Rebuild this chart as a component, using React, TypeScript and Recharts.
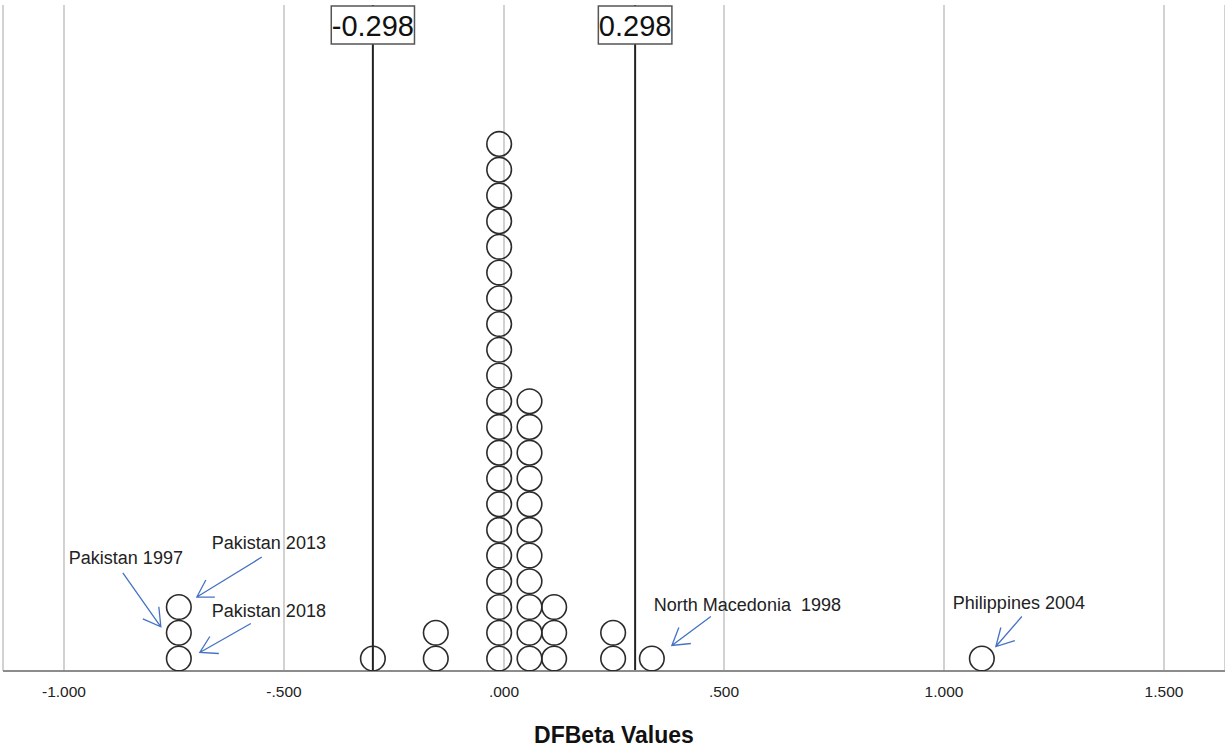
import { CartesianGrid, ReferenceLine, Scatter, ScatterChart, XAxis, YAxis } from "recharts";

// DFBeta values (one per dot column) and how many cases sit in each column
const dfbetaValues = [-0.739, -0.298, -0.155, -0.011, 0.058, 0.114, 0.248, 0.336, 1.086];
const caseCounts = [3, 1, 2, 21, 11, 3, 2, 1, 1];

// labelled cases: name, DFBeta value, position in its stack (0 = bottom)
const caseNames = ["Pakistan 1997", "Pakistan 2013", "Pakistan 2018", "North Macedonia  1998", "Philippines 2004"];
const caseValues = [-0.739, -0.739, -0.739, 0.336, 1.086];
const caseLevels = [1, 2, 0, 0, 0];

// cutoff lines (2 / sqrt(n))
const cutoffs = [-0.298, 0.298];

const xTicks = [-1, -0.5, 0, 0.5, 1, 1.5];

const dots = dfbetaValues.flatMap((v, i) =>
  Array.from({ length: caseCounts[i] }, (_, level) => ({ x: v, level }))
);
const callouts = caseNames.map((name, i) => ({ x: caseValues[i], level: caseLevels[i], name }));

const FONT = "'Liberation Sans', Arial, sans-serif";
const ARROW = "#4472c4";

type Pt = [number, number];
// arrow / text placement relative to the dot centre
const calloutLayout: Record<string, { text: Pt; from: Pt; tip: Pt; wings: [Pt, Pt] }> = {
  "Pakistan 1997": { text: [-110, -69], from: [-56, -60], tip: [-18, -6], wings: [[-20, -26], [-36, -14]] },
  "Pakistan 2013": { text: [33, -58], from: [83, -50], tip: [18, -10], wings: [[27, -27], [36, -10]] },
  "Pakistan 2018": { text: [33, -42], from: [72, -35], tip: [21, -6], wings: [[31, -22], [40, -5]] },
  "North Macedonia  1998": { text: [2, -48], from: [59, -42], tip: [20, -13], wings: [[27, -31], [39, -15]] },
  "Philippines 2004": { text: [-29, -50], from: [40, -42], tip: [14, -12], wings: [[19, -31], [33, -18]] },
};

const fmtTick = (v: number) => {
  const s = Math.abs(v).toFixed(3).replace(/^0/, "");
  return v < 0 ? `-${s}` : s;
};

// rough Arial advance widths for the cutoff boxes
const textWidth = (s: string, size: number) =>
  s.split("").reduce((w, c) => w + (c === "." ? 0.278 : c === "-" ? 0.333 : 0.556), 0) * size;

function CutoffBox(props: any) {
  const { viewBox, text } = props;
  const w = textWidth(text, 29) + 1;
  return (
    <g>
      <rect x={viewBox.x - w / 2} y={6} width={w} height={38} fill="#fff" stroke="#555" strokeWidth={1.5} />
      <text x={viewBox.x} y={36} textAnchor="middle" fontSize={29} fontFamily={FONT} fill="#111">
        {text}
      </text>
    </g>
  );
}

function Dot(props: any) {
  return <circle cx={props.cx} cy={props.cy} r={12.3} fill="none" stroke="#2b2b2b" strokeWidth={1.6} />;
}

function Callout(props: any) {
  const { cx, cy, payload } = props;
  const l = calloutLayout[payload.name];
  const p = (o: Pt) => `${cx + o[0]},${cy + o[1]}`;
  return (
    <g>
      <path
        d={`M${p(l.from)}L${p(l.tip)}M${p(l.wings[0])}L${p(l.tip)}L${p(l.wings[1])}`}
        fill="none"
        stroke={ARROW}
        strokeWidth={1.3}
      />
      <text x={cx + l.text[0]} y={cy + l.text[1]} fontSize={18} fontFamily={FONT} fill="#222" style={{ whiteSpace: "pre" }}>
        {payload.name}
      </text>
    </g>
  );
}

export default function App() {
  return (
    <div style={{ position: "absolute", left: 0, top: 0, background: "#fff" }}>
      <ScatterChart width={1225} height={750} margin={{ top: 5, right: 0, bottom: 0, left: 3 }}>
        <CartesianGrid horizontal={false} stroke="#d2d2d2" strokeWidth={2} />
        <XAxis
          type="number"
          dataKey="x"
          domain={[-1.1386, 1.6386]}
          allowDataOverflow
          ticks={xTicks}
          tickFormatter={fmtTick}
          tickLine={false}
          tickMargin={9}
          height={79}
          axisLine={{ stroke: "#8c8c8c", strokeWidth: 2 }}
          tick={{ fontSize: 15.5, fill: "#222", fontFamily: FONT }}
          label={{
            value: "DFBeta Values",
            position: "insideBottom",
            offset: 7,
            fontSize: 23,
            fontWeight: "bold",
            fill: "#111",
            fontFamily: FONT,
          }}
        />
        <YAxis type="number" dataKey="level" domain={[-0.485, 25.4]} hide allowDataOverflow />
        {cutoffs.map((c) => (
          <ReferenceLine
            key={c}
            x={c}
            stroke="#222"
            strokeWidth={2}
            label={(p: any) => <CutoffBox {...p} text={String(c)} />}
          />
        ))}
        <Scatter data={dots} shape={Dot} isAnimationActive={false} />
        <Scatter data={callouts} shape={Callout} isAnimationActive={false} />
      </ScatterChart>
    </div>
  );
}
